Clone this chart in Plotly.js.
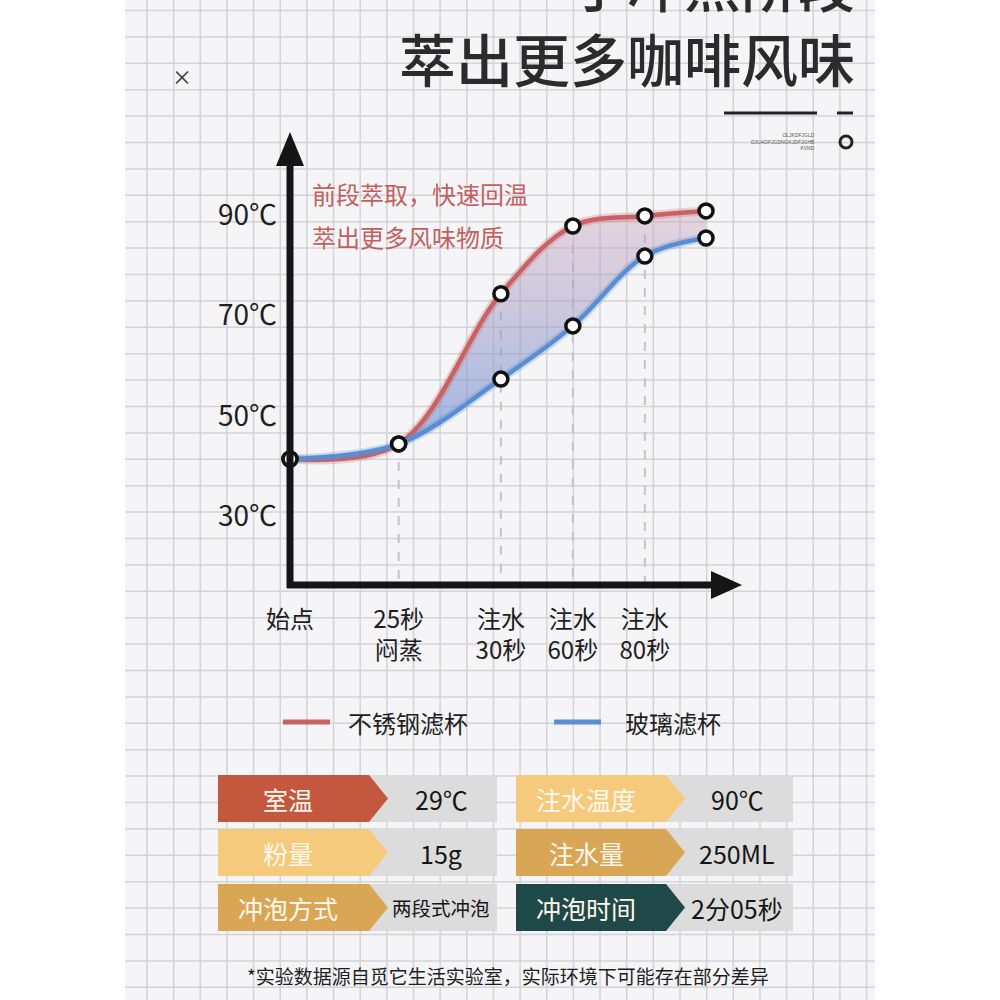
<!DOCTYPE html>
<html>
<head>
<meta charset="utf-8">
<script src="https://cdn.plot.ly/plotly-3.0.1.min.js"></script>
<style>
  html, body { margin: 0; padding: 0; background: #fff; }
  #chart { width: 1000px; height: 1000px; }
</style>
</head>
<body>
<div id="chart"></div>
<script>
// stages along the time axis (position on the x axis) and their labels
const stageX = [0, 1.51, 2.93, 3.93, 4.93, 5.78];
const stageLabels = ['始点', '25秒<br>闷蒸', '注水<br>30秒', '注水<br>60秒', '注水<br>80秒'];
// temperature, in °C
const steelTemp = [41.4, 44.4, 74.3, 87.8, 89.8, 90.8];
const glassTemp = [41.4, 44.4, 57.3, 67.9, 81.8, 85.4];
const tempTicks = [30, 50, 70, 90];
const seriesNames = ['不锈钢滤杯', '玻璃滤杯'];
const seriesColors = ['#c96264', '#5b8dd2'];

// brewing conditions table
const infoLabels = ['室温', '粉量', '冲泡方式', '注水温度', '注水量', '冲泡时间'];
const infoValues = ['29℃', '15g', '两段式冲泡', '90℃', '250ML', '2分05秒'];
const infoColors = ['#c4583f', '#f6ca7d', '#d9a656', '#f6ca7d', '#d9a656', '#1f4849'];

const FONT = '"Noto Sans CJK SC", "Noto Sans", sans-serif';
const xRange = [0, 6.53];
const yRange = [16.3, 108.9];

// page pixels -> paper coords (margins are 0 and the page is 1000x1000)
function px(x) { return x / 1000; }
function py(y) { return 1 - y / 1000; }
function path(pts) {
    return 'M' + pts.map(p => px(p[0]) + ',' + py(p[1])).join('L') + 'Z';
}
// text placed on the page, centred on (x, y) unless told otherwise
function label(x, y, text, font, xanchor) {
    return {xref: 'paper', yref: 'paper', x: px(x), y: py(y), text: text, showarrow: false,
        xanchor: xanchor || 'center', yanchor: 'middle', font: font};
}

let shapes = [];
let annotations = [];

// squared paper background
shapes.push({type: 'rect', xref: 'paper', yref: 'paper', x0: px(125), x1: px(875), y0: 0, y1: 1,
    fillcolor: '#f5f5f7', line: {width: 0}, layer: 'below'});
for (let x = 147; x < 875; x += 26.65) {
    shapes.push({type: 'line', xref: 'paper', yref: 'paper', x0: px(x), x1: px(x), y0: 0, y1: 1,
        line: {color: '#d3d3d8', width: 1.5}, layer: 'below'});
}
for (let y = 10.5; y < 1000; y += 26.4) {
    shapes.push({type: 'line', xref: 'paper', yref: 'paper', x0: px(125), x1: px(875), y0: py(y), y1: py(y),
        line: {color: '#d3d3d8', width: 1.5}, layer: 'below'});
}

// axes with arrow heads
shapes.push({type: 'line', xref: 'paper', yref: 'paper', x0: px(290), x1: px(290), y0: py(588), y1: py(160),
    line: {color: '#151515', width: 7}});
shapes.push({type: 'path', xref: 'paper', yref: 'paper', path: path([[290, 132], [276, 166], [304, 166]]),
    fillcolor: '#151515', line: {width: 0}});
shapes.push({type: 'line', xref: 'paper', yref: 'paper', x0: px(287), x1: px(715), y0: py(585), y1: py(585),
    line: {color: '#151515', width: 7}});
shapes.push({type: 'path', xref: 'paper', yref: 'paper', path: path([[742, 585], [711, 571], [711, 599]]),
    fillcolor: '#151515', line: {width: 0}});

// header
annotations.push(label(857, 57, '萃出更多咖啡风味', {family: FONT, size: 57, color: '#2b2b2b', weight: 500}, 'right'));
annotations.push(label(857, -18, '于冲煮阶段', {family: FONT, size: 57, color: '#2b2b2b', weight: 500}, 'right'));
annotations.push(label(182, 77, '×', {family: FONT, size: 20, color: '#333'}));
shapes.push({type: 'line', xref: 'paper', yref: 'paper', x0: px(724), x1: px(817), y0: py(113), y1: py(113),
    line: {color: '#222', width: 3}});
shapes.push({type: 'line', xref: 'paper', yref: 'paper', x0: px(837), x1: px(853), y0: py(113), y1: py(113),
    line: {color: '#222', width: 3}});
shapes.push({type: 'circle', xref: 'paper', yref: 'paper', x0: px(840), x1: px(852), y0: py(136), y1: py(148),
    line: {color: '#222', width: 3}});
let tiny = label(817, 141, 'OLJKDFJGLD<br>DJUAOFJGDNGKJDFJGHB<br>KVND',
    {family: 'Liberation Sans', size: 5, color: '#555'}, 'right');
tiny.align = 'right';
annotations.push(tiny);

// red notes inside the chart
annotations.push(label(310, 193, '前段萃取，快速回温', {family: FONT, size: 24, color: '#c3605f'}, 'left'));
annotations.push(label(310, 236, '萃出更多风味物质', {family: FONT, size: 24, color: '#c3605f'}, 'left'));

// legend
[[283, 330, 346], [554, 601, 623]].forEach(function (p, i) {
    shapes.push({type: 'line', xref: 'paper', yref: 'paper', x0: px(p[0]), x1: px(p[1]), y0: py(722), y1: py(722),
        line: {color: seriesColors[i], width: 5}});
    annotations.push(label(p[2], 722, seriesNames[i], {family: FONT, size: 24, color: '#1e1e1e'}, 'left'));
});

// conditions table: 3 rows x 2 blocks
const rowTops = [775, 829, 884];
const blocks = [{x0: 218, tip: 388, cellEnd: 497, valX: 441}, {x0: 516, tip: 685, cellEnd: 793, valX: 737}];
infoLabels.forEach(function (name, i) {
    const b = blocks[Math.floor(i / 3)];
    const top = rowTops[i % 3], bot = top + 47, mid = top + 23.5;
    const value = infoValues[i];
    shapes.push({type: 'rect', xref: 'paper', yref: 'paper', x0: px(b.tip - 22), x1: px(b.cellEnd), y0: py(bot), y1: py(top),
        fillcolor: '#dcdcdc', line: {width: 0}});
    shapes.push({type: 'path', xref: 'paper', yref: 'paper',
        path: path([[b.x0, top], [b.tip - 19, top], [b.tip, mid], [b.tip - 19, bot], [b.x0, bot]]),
        fillcolor: infoColors[i], line: {width: 0}});
    annotations.push(label(b.x0 + 70, mid, name, {family: FONT, size: 25, color: '#fff8ec'}));
    const small = value.length >= 5 && !/\d/.test(value);
    annotations.push(label(b.valX, mid, value, {family: FONT, size: small ? 19.5 : 25, color: '#151515'}));
});

annotations.push(label(508, 975, '*实验数据源自觅它生活实验室，实际环境下可能存在部分差异',
    {family: FONT, size: 19, color: '#1e1e1e'}));

// traces
let data = [];
// dashed guides from the steel points down to the x axis
for (let i = 1; i < 5; i++) {
    data.push({type: 'scatter', mode: 'lines', x: [stageX[i], stageX[i]], y: [steelTemp[i], yRange[0]],
        line: {color: '#c4c4c8', width: 2, dash: 'dash'}, showlegend: false, hoverinfo: 'skip'});
}
// band between the two curves
data.push({type: 'scatter', mode: 'lines', x: stageX, y: glassTemp,
    line: {width: 0, shape: 'spline', smoothing: 1}, showlegend: false, hoverinfo: 'skip'});
data.push({type: 'scatter', mode: 'lines', x: stageX, y: steelTemp, fill: 'tonexty',
    fillgradient: {type: 'vertical', start: 45, stop: 90,
        colorscale: [[0, 'rgba(110,148,215,0.65)'], [1, 'rgba(200,160,185,0.4)']]},
    line: {width: 0, shape: 'spline', smoothing: 1}, showlegend: false, hoverinfo: 'skip'});
// the two curves
[steelTemp, glassTemp].forEach(function (temps, i) {
    data.push({type: 'scatter', mode: 'lines', x: stageX, y: temps, name: seriesNames[i],
        line: {color: seriesColors[i], width: 9, shape: 'spline', smoothing: 1}, opacity: 0.25, showlegend: false});
    data.push({type: 'scatter', mode: 'lines', x: stageX, y: temps, name: seriesNames[i],
        line: {color: seriesColors[i], width: 4.5, shape: 'spline', smoothing: 1}, showlegend: false});
});
data.push({type: 'scatter', mode: 'markers', x: stageX.concat(stageX), y: steelTemp.concat(glassTemp),
    marker: {size: 14, color: '#fff', line: {color: '#111', width: 3.5}}, cliponaxis: false, showlegend: false});

let layout = {
    width: 1000,
    height: 1000,
    margin: {l: 0, r: 0, t: 0, b: 0},
    paper_bgcolor: '#ffffff',
    plot_bgcolor: 'rgba(0,0,0,0)',
    showlegend: false,
    xaxis: {
        domain: [0.29, 0.76], range: xRange, showgrid: false, zeroline: false, showline: false,
        tickvals: stageX.slice(0, 5), ticktext: stageLabels, ticks: '', ticklabelstandoff: 18,
        tickfont: {family: FONT, size: 24, color: '#1e1e1e'}
    },
    yaxis: {
        domain: [0.415, 0.88], range: yRange, showgrid: false, zeroline: false, showline: false,
        tickvals: tempTicks, ticktext: tempTicks.map(t => t + '℃'), ticks: '', ticklabelstandoff: 12,
        tickfont: {family: FONT, size: 28, color: '#1e1e1e'}
    },
    shapes: shapes,
    annotations: annotations
};

Plotly.newPlot('chart', data, layout, {staticPlot: true});
</script>
</body>
</html>
